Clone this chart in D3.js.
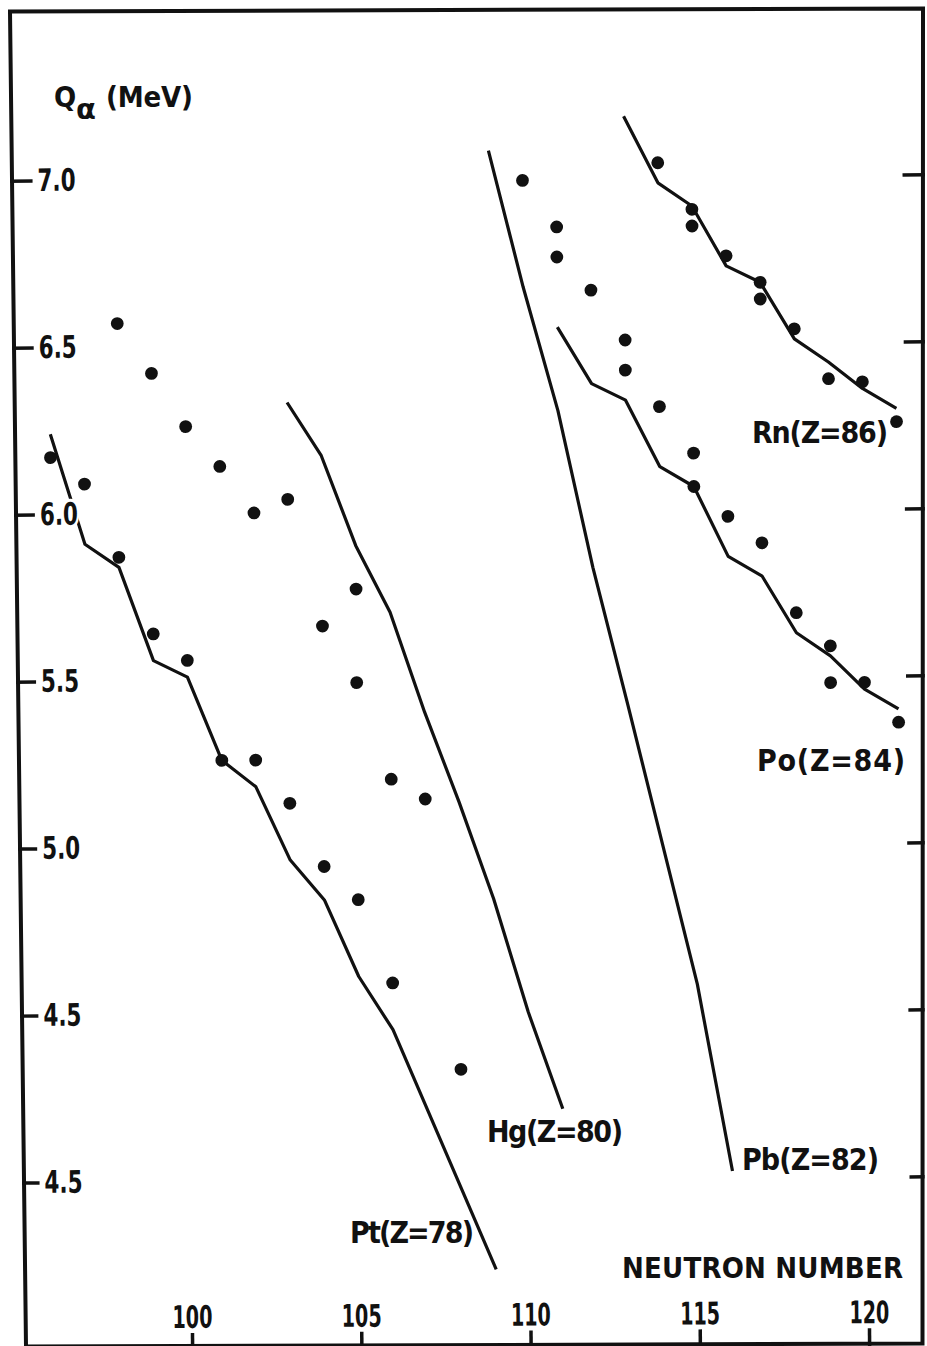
<!DOCTYPE html>
<html>
<head>
<meta charset="utf-8">
<script src="https://cdn.jsdelivr.net/npm/d3@7"></script>
<style>
  html, body { margin: 0; padding: 0; background: #fff; }
  svg { display: block; }
  text { font-family: "Liberation Sans Narrow", "DejaVu Sans Condensed", "Liberation Sans", sans-serif; font-weight: bold; fill: #111; }
</style>
</head>
<body>
<script>
// Q-alpha systematics vs neutron number

// measured points [N, Q(MeV)]
const ptDots = [[96,6.17],[97,6.09],[98,5.87],[99,5.64],[100,5.56],[101,5.26],[102,5.26],[103,5.13],[104,4.94],[105,4.84],[106,4.59],[108,4.33]];
const hgDots = [[98,6.57],[99,6.42],[100,6.26],[101,6.14],[102,6.00],[103,6.04],[104,5.66],[105,5.77],[105,5.49],[106,5.20],[107,5.14]];
const poDots = [[110,6.99],[111,6.85],[111,6.76],[112,6.66],[113,6.51],[113,6.42],[114,6.31],[115,6.17],[115,6.07],[116,5.98],[117,5.90],[118,5.69],[119,5.59],[119,5.48],[120,5.48],[121,5.36]];
const rnDots = [[114,7.04],[115,6.90],[115,6.85],[116,6.76],[117,6.68],[117,6.63],[118,6.54],[119,6.39],[120,6.38],[121,6.26]];

// calculated curves [N, Q(MeV)]
const ptLine = [[96,6.24],[97,5.91],[98,5.84],[99,5.56],[100,5.51],[101,5.26],[102,5.18],[103,4.96],[104,4.84],[105,4.61],[106,4.45],[109,3.73]];
const hgLine = [[103,6.33],[104,6.17],[105,5.90],[106,5.70],[107,5.40],[108,5.13],[109,4.84],[110,4.50],[111,4.21]];
const pbLine = [[109,7.08],[110,6.67],[111,6.30],[112,5.83],[113,5.42],[114,5.00],[115,4.58],[116,4.02]];
const poLine = [[111,6.55],[112,6.38],[113,6.33],[114,6.13],[115,6.07],[116,5.86],[117,5.80],[118,5.63],[119,5.56],[120,5.46],[121,5.40]];
const rnLine = [[113,7.18],[114,6.98],[115,6.91],[116,6.73],[117,6.68],[118,6.51],[119,6.44],[120,6.36],[121,6.30]];

// axes
const xTicks = [100, 105, 110, 115, 120];
const yTicks = [7.0, 6.5, 6.0, 5.5, 5.0, 4.5, 4.0];
const yTickLabels = ["7.0", "6.5", "6.0", "5.5", "5.0", "4.5", "4.5"]; // bottom label printed as 4.5 in the original

const curveLabels = ["Pt(Z=78)", "Hg(Z=80)", "Pb(Z=82)", "Po(Z=84)", "Rn(Z=86)"];
const xTitle = "NEUTRON NUMBER";

// layout
const W = 927, H = 1346;
const cx = 463.5, cy = 673;   // scan is tilted a little
const tilt = -0.4;

// label boxes: [x, baseline, width]
const labelPos = [[350,1243,124],[487,1142,136],[742,1170,137],[757,771,148],[752,443,136]];

const svg = d3.select("body").append("svg")
  .attr("width", W)
  .attr("height", H);

svg.append("clipPath").attr("id", "frameClip")
  .append("path")
  .attr("d", "M8,9.5 L925,6.5 L924.5,1346 L24,1346 Z");

const x = d3.scaleLinear().domain([100, 120]).range([187.4, 864.4]);
const y = d3.scaleLinear().domain([4.0, 7.0]).range([1179.5, 177.5]);

const plot = svg.append("g")
  .attr("clip-path", "url(#frameClip)")
  .append("g")
  .attr("transform", `rotate(${tilt},${cx},${cy})`);

// curves
const line = d3.line().x(d => x(d[0])).y(d => y(d[1]));
plot.selectAll(".curve")
  .data([ptLine, hgLine, pbLine, poLine, rnLine])
  .enter().append("path")
  .attr("class", "curve")
  .attr("d", line)
  .attr("fill", "none")
  .attr("stroke", "#111")
  .attr("stroke-width", 3.2)
  .attr("stroke-linejoin", "round");

// data points
const allDots = [].concat(ptDots, hgDots, poDots, rnDots);
plot.selectAll(".dot")
  .data(allDots)
  .enter().append("circle")
  .attr("class", "dot")
  .attr("cx", d => x(d[0]))
  .attr("cy", d => y(d[1]))
  .attr("r", 6.4)
  .attr("fill", "#111");

// left ticks + labels (drawn over the curves, white halo breaks the Pt line at "6.0")
const yAxis = plot.append("g")
  .call(d3.axisRight(y).tickValues(yTicks).tickSize(36).tickPadding(5)
    .tickFormat((d, i) => yTickLabels[i]));
// right ticks
const yAxisR = plot.append("g")
  .attr("transform", "translate(940,0)")
  .call(d3.axisLeft(y).tickValues(yTicks).tickSize(34).tickFormat(""));
// bottom ticks + labels
const xAxis = plot.append("g")
  .attr("transform", "translate(0,1360)")
  .call(d3.axisTop(x).tickValues(xTicks).tickSize(29).tickPadding(5).tickFormat(d3.format("d")));

[yAxis, yAxisR, xAxis].forEach(a => {
  a.select(".domain").remove();
  a.attr("font-family", null).attr("font-size", null);
  a.selectAll(".tick line").attr("stroke", "#111").attr("stroke-width", 3.5);
  a.selectAll(".tick text")
    .attr("fill", "#111")
    .style("font-size", "31px")
    .attr("stroke", "#fff")
    .attr("stroke-width", 6)
    .attr("paint-order", "stroke")
    .attr("lengthAdjust", "spacingAndGlyphs");
});
yAxis.selectAll(".tick text").attr("textLength", 38);
xAxis.selectAll(".tick text").attr("textLength", 40);

// frame
svg.append("path")
  .attr("d", "M10,11.5 L923,8.5 L922.5,1343.5 L26,1346.5 Z")
  .attr("fill", "none")
  .attr("stroke", "#111")
  .attr("stroke-width", 4);

// curve labels
svg.selectAll(".clabel")
  .data(curveLabels)
  .enter().append("text")
  .attr("class", "clabel")
  .attr("x", (d, i) => labelPos[i][0])
  .attr("y", (d, i) => labelPos[i][1])
  .attr("textLength", (d, i) => labelPos[i][2])
  .attr("lengthAdjust", "spacing")
  .style("font-size", "30px")
  .text(d => d);

// axis titles
svg.append("text")
  .attr("x", 622).attr("y", 1278)
  .attr("textLength", 281).attr("lengthAdjust", "spacing")
  .style("font-size", "29px")
  .text(xTitle);

const yTitle = svg.append("text")
  .attr("x", 54).attr("y", 107)
  .style("font-size", "29px");
yTitle.append("tspan").text("Q");
yTitle.append("tspan")
  .attr("x", 76).attr("dy", 12)
  .style("font-family", "'DejaVu Sans', sans-serif")
  .style("font-size", "29px")
  .text("α");
yTitle.append("tspan")
  .attr("x", 106).attr("y", 107)
  .attr("textLength", 87).attr("lengthAdjust", "spacing")
  .text("(MeV)");
</script>
</body>
</html>
